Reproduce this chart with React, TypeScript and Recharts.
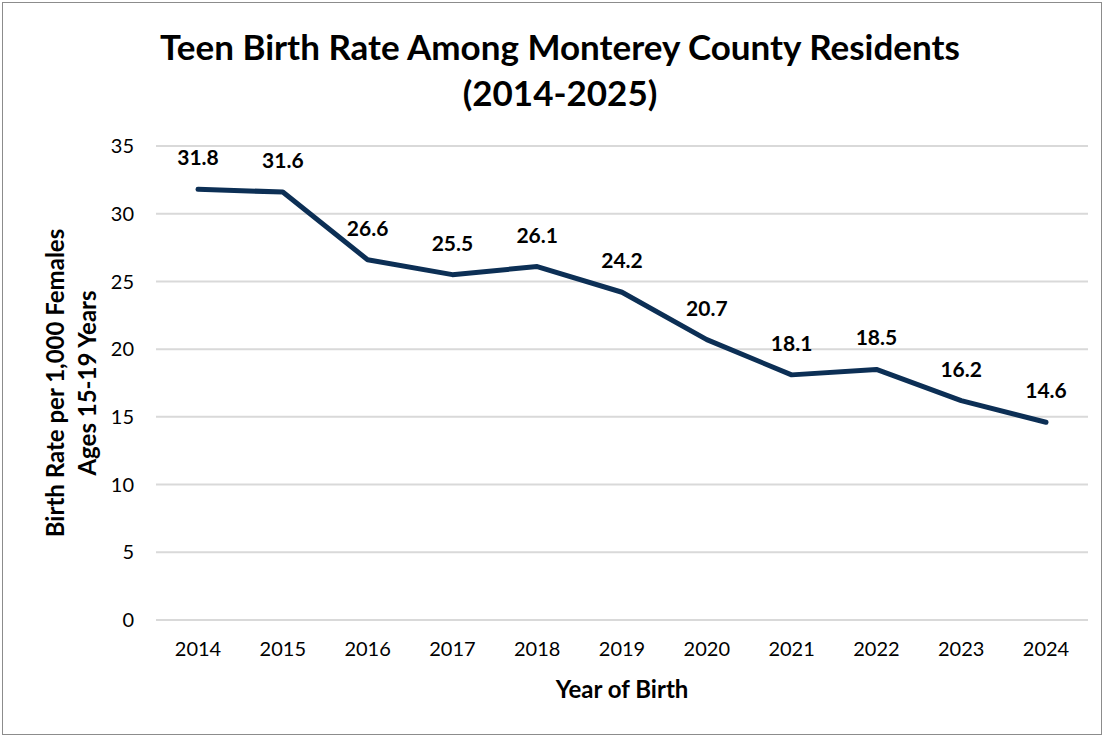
import React from 'react';
import { LineChart, Line, XAxis, YAxis, CartesianGrid, LabelList } from 'recharts';

const years = ['2014', '2015', '2016', '2017', '2018', '2019', '2020', '2021', '2022', '2023', '2024'];
const rates = [31.8, 31.6, 26.6, 25.5, 26.1, 24.2, 20.7, 18.1, 18.5, 16.2, 14.6];
const yTicks = [0, 5, 10, 15, 20, 25, 30, 35];

const data = years.map((year, i) => ({ year, rate: rates[i] }));

const FONT = 'Lato, "Open Sans", sans-serif';

export default function App() {
  return (
    <div style={{ position: 'relative', width: 1104, height: 737, background: '#fff', fontFamily: FONT }}>
      <style>{'body{margin:0}'}</style>
      <div
        style={{
          position: 'absolute', left: 2, top: 2, width: 1098, height: 731,
          border: '1px solid #8c8c8c', pointerEvents: 'none'
        }}
      />
      <div
        style={{
          position: 'absolute', left: 0, top: 23, width: 1120, textAlign: 'center',
          fontSize: 35, fontWeight: 700, lineHeight: '46px', color: '#000'
        }}
      >
        Teen Birth Rate Among Monterey County Residents
        <br />
        (2014-2025)
      </div>
      <div style={{ position: 'absolute', left: 71, top: 383, width: 0, height: 0 }}>
        <div
          style={{
            position: 'absolute', width: 500, left: -250, top: -32,
            transform: 'rotate(-90deg)', textAlign: 'center',
            fontSize: 24, fontWeight: 700, lineHeight: '32px', color: '#000'
          }}
        >
          Birth Rate per 1,000 Females
          <br />
          Ages 15-19 Years
        </div>
      </div>
      <div
        style={{
          position: 'absolute', left: 156, width: 932, top: 674, textAlign: 'center',
          fontSize: 24, fontWeight: 700, color: '#000'
        }}
      >
        Year of Birth
      </div>
      <LineChart
        width={1104}
        height={737}
        data={data}
        margin={{ top: 146, right: 16, bottom: 87, left: 96 }}
        style={{ position: 'absolute', left: 0, top: 0 }}
      >
        <CartesianGrid vertical={false} stroke="#d9d9d9" strokeWidth={2} />
        <XAxis
          dataKey="year"
          axisLine={false}
          tickLine={false}
          padding={{ left: 42, right: 42 }}
          tick={{ fill: '#000', fontSize: 20, fontFamily: FONT }}
          tickMargin={16}
          interval={0}
        />
        <YAxis
          width={60}
          domain={[0, 35]}
          ticks={yTicks}
          axisLine={false}
          tickLine={false}
          tick={{ fill: '#000', fontSize: 20, fontFamily: FONT }}
          tickMargin={16}
        />
        <Line
          dataKey="rate"
          stroke="#0c2f55"
          strokeWidth={5}
          dot={false}
          strokeLinecap="round"
          strokeLinejoin="round"
          isAnimationActive={false}
        >
          <LabelList
            dataKey="rate"
            position="top"
            offset={24}
            fill="#000"
            fontSize={21}
            fontWeight={700}
            fontFamily={FONT}
            formatter={(v: number) => v.toFixed(1)}
          />
        </Line>
      </LineChart>
    </div>
  );
}
